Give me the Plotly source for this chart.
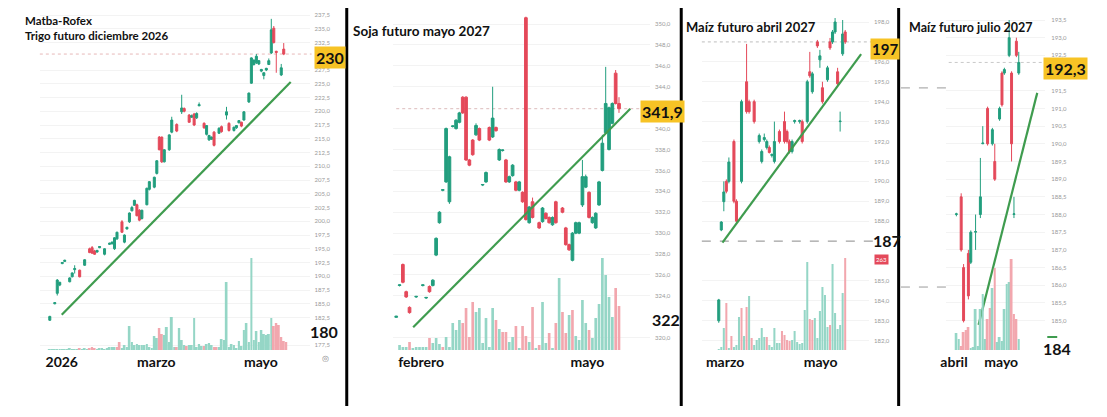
import plotly.graph_objects as go

# ======================= DATA =======================
# --- Trigo futuro diciembre 2026 (session index, open, high, low, close)
trigo_ohlc = [
    (0, 182.0, 182.8, 181.9, 182.7), (2, 185.0, 185.3, 184.9, 185.2), (3, 186.9, 189.5, 186.5, 189.3),
    (4, 188.4, 189.0, 188.2, 188.9), (5, 192.3, 192.6, 192.2, 192.5), (6, 192.7, 193.0, 192.6, 192.9),
    (8, 189.0, 189.8, 188.9, 189.7), (9, 189.9, 190.7, 189.8, 190.6), (10, 191.2, 192.0, 190.5, 191.4),
    (12, 191.1, 191.2, 189.8, 189.9), (14, 192.0, 193.1, 191.9, 193.0), (16, 195.0, 195.2, 194.2, 194.3),
    (17, 195.2, 195.5, 194.1, 194.2), (18, 194.6, 194.8, 193.9, 194.0), (19, 194.4, 194.8, 194.3, 194.7),
    (20, 195.2, 195.5, 195.1, 195.4), (22, 194.0, 195.1, 193.8, 195.0), (24, 195.8, 196.1, 195.7, 196.0),
    (25, 195.9, 196.3, 195.8, 196.2), (26, 195.0, 197.1, 194.8, 197.0), (27, 196.8, 198.1, 196.6, 198.0),
    (29, 199.9, 200.2, 197.9, 198.0), (30, 196.2, 197.6, 196.0, 197.5), (31, 198.6, 199.0, 198.5, 198.9),
    (32, 199.9, 201.6, 199.7, 201.5), (33, 201.9, 202.8, 201.8, 202.5), (34, 202.9, 203.9, 202.8, 203.8),
    (35, 203.0, 203.2, 200.9, 201.0), (36, 202.0, 202.2, 200.0, 200.2), (37, 200.5, 202.1, 200.3, 202.0),
    (39, 203.0, 206.1, 202.9, 206.0), (40, 205.8, 207.3, 205.6, 207.2), (42, 206.2, 208.1, 206.0, 208.0),
    (43, 208.7, 211.1, 208.5, 211.0), (44, 215.3, 215.5, 212.9, 213.0), (45, 215.3, 215.4, 210.6, 210.8),
    (46, 210.8, 213.1, 210.7, 213.0), (48, 213.0, 215.8, 212.8, 215.7), (49, 216.2, 219.0, 216.0, 218.4),
    (51, 217.6, 217.8, 216.2, 216.4), (53, 219.9, 223.0, 219.5, 220.6), (54, 220.5, 220.7, 219.8, 220.0),
    (56, 219.3, 219.5, 217.9, 218.0), (57, 218.9, 219.4, 218.8, 219.2), (58, 219.5, 219.7, 217.3, 217.5),
    (59, 218.8, 219.8, 218.6, 219.6), (60, 221.0, 221.6, 220.9, 221.2), (62, 217.8, 218.0, 216.8, 217.0),
    (63, 215.8, 217.5, 215.6, 217.4), (64, 214.8, 215.7, 214.6, 215.6), (65, 214.9, 215.4, 214.8, 215.3),
    (66, 216.2, 216.4, 213.6, 213.8), (68, 216.0, 217.1, 215.9, 216.9), (69, 217.2, 217.4, 216.1, 216.3),
    (71, 219.3, 220.8, 218.5, 219.9), (72, 217.8, 218.0, 216.3, 216.5), (74, 216.5, 217.2, 216.3, 217.1),
    (75, 217.0, 217.5, 216.8, 217.4), (76, 217.9, 218.4, 217.8, 218.3), (77, 218.0, 218.1, 217.1, 217.3),
    (78, 218.4, 220.0, 218.3, 219.9), (80, 221.7, 223.4, 221.5, 223.3), (81, 225.1, 229.8, 225.0, 229.7),
    (82, 228.5, 229.4, 228.3, 229.3), (83, 228.8, 230.4, 228.6, 230.0), (84, 228.6, 229.3, 228.4, 229.2),
    (85, 227.3, 227.7, 227.1, 227.6), (86, 226.5, 227.1, 225.8, 227.0), (87, 227.5, 227.9, 227.3, 227.8),
    (88, 228.5, 229.6, 228.4, 229.2), (89, 230.6, 236.8, 230.4, 234.8), (90, 235.1, 235.5, 232.3, 232.5),
    (91, 230.9, 231.0, 227.0, 230.7), (93, 226.6, 228.6, 226.4, 227.9), (94, 231.3, 232.4, 230.2, 230.4),
]
trigo_vol = [1, 1, 1, 1, 1, 1, 1, 1, 2, 1, 1, 1, 2, 1, 2, 1, 2, 3, 2, 1,
             2, 2, 1, 2, 3, 3, 3, 3, 8, 2, 5, 3, 24, 8, 5, 6, 5, 5, 5, 6,
             3, 2, 14, 12, 22, 16, 15, 23, 8, 33, 3, 3, 22, 10, 5, 4, 5, 5, 32, 3,
             6, 4, 4, 6, 7, 5, 3, 3, 3, 11, 10, 68, 3, 6, 5, 2, 9, 4, 20, 27,
             8, 92, 10, 19, 8, 20, 16, 15, 16, 32, 24, 27, 25, 13, 9, 8]
trigo_vol_x = list(range(0, 96))
trigo_vol_dir = ("uuuuuuuuuuuu" "d" "uuu" "ddd" "uuuuuuuu" "dd" "uuuuuuuuuuuuuuu" "dd" "uuuuu" "d"
                 "uuu" "d" "uuuuuu" "d" "uuu" "dd" "uuuuuuuuuuuuuuuuuuuuuu" "dddddd")
trigo_trend_x = [4.8, 96.8]
trigo_trend_y = [183.0, 225.3]
trigo_last = 230.4
trigo_months = ["2026", "marzo", "mayo"]
trigo_month_pos = [4.8, 42.8, 84.8]
# visible price-axis labels (those hidden under the value tags are left out)
trigo_ticks = [177.5, 182.5, 185.0, 187.5, 190.0, 192.5, 195.0, 197.5, 200.0, 202.5, 205.0, 207.5,
               210.0, 212.5, 215.0, 217.5, 220.0, 222.5, 225.0, 227.5, 232.5, 235.0, 237.5]

# --- Soja futuro mayo 2027
soja_ohlc = [
    (0, 321.95, 322.1, 321.9, 322.05), (1, 325.0, 325.1, 324.9, 325.05), (2, 327.0, 327.1, 325.2, 325.3),
    (3, 324.4, 324.5, 323.8, 323.9), (4, 322.9, 323.0, 322.3, 322.4), (6, 323.9, 324.0, 323.8, 323.95),
    (8, 325.0, 325.1, 324.9, 325.05), (9, 323.8, 323.9, 323.7, 323.85), (10, 324.9, 325.0, 324.3, 324.4),
    (11, 325.0, 325.6, 324.9, 325.5), (12, 327.9, 329.6, 327.8, 329.5), (13, 331.0, 332.1, 330.9, 332.0),
    (14, 334.1, 334.2, 334.0, 334.15), (15, 334.9, 340.1, 334.8, 340.0), (16, 333.0, 337.4, 332.8, 337.3),
    (17, 340.2, 340.3, 340.1, 340.25), (18, 340.0, 340.9, 339.9, 340.8), (19, 340.6, 341.6, 340.5, 341.5),
    (20, 343.0, 343.1, 341.4, 341.5), (21, 343.0, 343.1, 336.9, 337.0), (22, 337.0, 337.1, 336.4, 336.5),
    (23, 338.9, 339.0, 337.4, 337.5), (24, 339.4, 340.5, 339.3, 340.3), (25, 340.0, 340.1, 338.8, 338.9),
    (26, 334.6, 334.7, 334.5, 334.65), (27, 334.9, 335.9, 334.8, 335.8), (28, 340.1, 340.2, 338.8, 338.9),
    (29, 339.2, 344.0, 339.1, 341.0), (30, 340.1, 340.2, 339.7, 339.8), (31, 337.0, 338.1, 336.9, 338.0),
    (32, 337.9, 338.0, 337.8, 337.95), (33, 337.0, 337.1, 334.8, 334.9), (34, 334.9, 335.5, 334.8, 335.4),
    (35, 335.5, 336.6, 335.4, 336.5), (36, 334.9, 335.0, 334.0, 334.1), (37, 334.1, 335.0, 334.0, 334.9),
    (38, 333.9, 334.0, 332.9, 333.0), (39, 350.6, 350.7, 331.2, 331.3), (40, 331.0, 332.6, 330.9, 332.5),
    (41, 333.0, 333.4, 331.4, 331.5), (43, 331.0, 331.1, 330.4, 330.5), (44, 331.1, 332.5, 331.0, 332.4),
    (45, 331.9, 332.0, 331.3, 331.4), (46, 331.5, 331.6, 330.9, 331.0), (47, 330.8, 331.6, 330.7, 331.5),
    (48, 333.0, 333.1, 330.9, 331.0), (50, 332.4, 332.5, 331.9, 332.0), (51, 330.5, 330.6, 328.8, 328.9),
    (52, 328.9, 329.0, 328.3, 328.4), (53, 327.4, 330.1, 327.3, 330.0), (54, 330.0, 331.1, 329.9, 331.0),
    (55, 330.0, 331.1, 329.9, 331.0), (56, 332.7, 337.0, 332.5, 335.4), (57, 334.4, 335.6, 334.3, 335.4),
    (58, 333.9, 334.0, 331.4, 331.5), (59, 331.0, 331.6, 330.9, 331.5), (60, 330.5, 332.0, 330.4, 331.9),
    (61, 332.7, 335.0, 332.6, 334.9), (62, 336.0, 339.4, 335.9, 338.6), (63, 339.6, 345.9, 339.5, 342.4),
    (64, 338.0, 342.1, 337.9, 342.0), (65, 340.5, 342.5, 340.4, 342.4), (66, 345.3, 345.6, 342.3, 342.4),
    (67, 342.4, 343.0, 341.5, 341.9),
]
soja_vol = [5, 3, 3, 8, 2, 3, 3, 3, 3, 12, 7, 12, 6, 3, 13, 3, 27, 20, 30, 27,
            42, 13, 48, 38, 42, 7, 32, 3, 42, 30, 21, 18, 18, 8, 13, 24, 2, 24, 14, 8,
            43, 2, 5, 48, 7, 17, 2, 27, 72, 38, 17, 35, 40, 14, 10, 50, 27, 20, 12, 32,
            46, 92, 75, 53, 33, 62, 44]
soja_vol_x = list(range(1, 68))
soja_vol_dir = ("uuu" "d" "uuuuu" "d" "uuu" "d" "uuuuu" "dddd" "uuuuuu" "d" "u" "dd" "uu" "d" "u" "dd"
                "u" "d" "u" "d" "uu" "d" "u" "d" "u" "dd" "u" "d" "uuuu" "d" "uuuuuuu" "dd")
soja_trend_x = [5.1, 70.4]
soja_trend_y = [321.0, 341.9]
soja_last = 341.9
soja_months = ["febrero", "mayo"]
soja_month_pos = [7.5, 57.5]
soja_ticks = [320.0, 324.0, 326.0, 328.0, 330.0, 332.0, 334.0, 336.0, 338.0, 340.0,
              344.0, 346.0, 348.0, 350.0]

# --- Maíz futuro abril 2027
abril_ohlc = [
    (0, 183.0, 184.1, 182.9, 184.05), (1, 187.56, 188.0, 187.5, 187.96), (2, 188.98, 190.0, 188.5, 189.47),
    (3, 190.0, 190.1, 189.4, 189.5), (4, 190.0, 191.2, 189.9, 190.97), (6, 192.0, 192.1, 188.9, 189.0),
    (7, 189.0, 189.1, 187.9, 188.0), (9, 190.0, 194.1, 189.9, 194.0), (11, 195.0, 196.9, 193.4, 193.5),
    (12, 194.0, 194.1, 193.4, 193.5), (14, 194.0, 194.1, 192.9, 193.0), (16, 192.0, 192.4, 191.9, 192.3),
    (17, 191.0, 191.6, 190.9, 191.5), (18, 192.1, 192.4, 192.0, 192.2), (19, 191.7, 192.1, 191.6, 192.0),
    (20, 191.7, 191.8, 191.4, 191.45), (21, 191.3, 191.4, 191.2, 191.35), (22, 191.0, 193.0, 190.9, 192.0),
    (24, 192.5, 192.6, 191.9, 192.0), (26, 193.0, 193.5, 191.9, 192.0), (27, 192.5, 192.6, 191.9, 192.0),
    (28, 192.0, 192.1, 191.4, 191.5), (29, 191.5, 192.1, 191.4, 192.0), (30, 193.0, 193.1, 192.9, 193.05),
    (32, 193.0, 193.1, 192.9, 193.05), (33, 193.0, 193.1, 191.9, 192.0), (35, 193.0, 195.1, 192.9, 195.0),
    (36, 195.5, 196.5, 195.2, 195.3), (37, 194.5, 195.5, 194.4, 195.4), (39, 197.0, 197.1, 196.7, 196.8),
    (40, 196.1, 196.6, 195.7, 196.3), (41, 194.7, 195.0, 193.9, 194.0), (43, 195.1, 195.8, 195.0, 195.7),
    (44, 197.0, 197.2, 196.6, 196.7), (45, 197.0, 197.6, 196.9, 197.5), (46, 197.5, 198.2, 197.4, 198.0),
    (47, 195.5, 195.7, 194.8, 194.9), (48, 193.0, 193.5, 192.5, 193.02), (49, 196.4, 198.1, 196.3, 197.4),
    (50, 197.5, 197.6, 196.9, 197.0),
]
abril_vol = [1, 3, 22, 47, 2, 14, 3, 5, 33, 42, 14, 43, 54, 12, 5, 10, 12, 22, 13, 13,
             5, 3, 22, 7, 7, 19, 15, 10, 9, 10, 19, 8, 6, 7, 40, 88, 31, 30, 32, 12,
             39, 63, 55, 23, 25, 86, 37, 21, 25, 57, 92]
abril_vol_x = list(range(0, 51))
abril_vol_dir = ("uuu" "d" "u" "d" "uuu" "d" "u" "d" "u" "d" "uuuuu" "d" "uuuuu" "dddd" "uuuuuuu" "dd"
                 "uuuuuu" "d" "uuuuu" "d")
abril_trend_x = [1.46, 56.3]
abril_trend_y = [186.92, 196.39]
abril_last = 197.0
abril_mark = 187.0
abril_months = ["marzo", "mayo"]
abril_month_pos = [2.5, 40.3]
abril_ticks = [182.0, 183.0, 184.0, 185.0, 188.0, 189.0, 190.0, 191.0, 192.0, 193.0,
               194.0, 195.0, 196.0, 198.0]

# --- Maíz futuro julio 2027
julio_ohlc = [
    (0, 188.0, 188.05, 187.95, 188.02), (2, 188.5, 188.6, 186.95, 187.0), (3, 186.5, 186.6, 184.95, 185.0),
    (5, 186.9, 187.0, 185.6, 185.7), (6, 186.65, 187.55, 186.6, 187.5), (8, 187.5, 188.0, 187.0, 187.52),
    (10, 188.0, 189.6, 187.9, 188.5), (11, 190.0, 190.5, 190.0, 190.02), (13, 191.0, 191.05, 189.95, 190.0),
    (15, 190.0, 190.45, 189.95, 190.4), (16, 189.5, 190.0, 188.95, 189.0), (18, 190.7, 191.05, 190.65, 191.0),
    (19, 192.0, 192.05, 191.05, 191.1), (20, 192.0, 192.15, 191.95, 192.1), (22, 192.5, 193.5, 192.45, 193.0),
    (23, 192.0, 192.05, 189.5, 190.0), (24, 188.0, 188.5, 187.9, 188.02), (25, 192.9, 193.0, 192.45, 192.5),
    (26, 192.0, 192.6, 191.95, 192.3),
]
julio_vol = [17, 11, 4, 18, 20, 23, 2, 3, 41, 4, 41, 56, 11, 31, 42, 62, 82, 8, 13, 9,
             41, 66, 68, 91, 36, 31, 11]
julio_vol_x = list(range(0, 27))
julio_vol_dir = "uu" "dddd" "uuuuuuu" "dd" "u" "d" "uuuuuu" "ddd" "u"
julio_trend_x = [9.25, 33.7]
julio_trend_y = [184.88, 191.44]
julio_last = 192.3
julio_marks = [191.58, 185.95]
julio_months = ["abril", "mayo"]
julio_month_pos = [-1.0, 18.7]
julio_ticks = [185.0, 185.5, 186.0, 186.5, 187.0, 187.5, 188.0, 188.5, 189.0, 189.5, 190.0, 190.5,
               191.0, 191.5, 192.5, 193.0, 193.5]

# ======================= LAYOUT / STYLE =======================
W, H = 1107, 417
FONT = "Lato, 'Open Sans', sans-serif"
UP, DOWN = "#229e7e", "#e4495a"
VUP, VDOWN = "#95d6c6", "#f2a7ae"
YELLOW = "#f7c325"
TREND = "#3f9c4f"
PRICE_TOP, PRICE_BOT = 5, 352      # pixel rows of price-axis domain
VOL_BOT, VOL_TOP = 350, 250        # pixel rows of volume domain (1 unit = 1 px)


def fx(p):
    return p / W


def fy(p):
    return 1 - p / H


panels = [
    dict(ohlc=trigo_ohlc, vol=trigo_vol, vx=trigo_vol_x, vdir=trigo_vol_dir, tx=trigo_trend_x, ty=trigo_trend_y,
         months=trigo_months, mpos=trigo_month_pos, ticks=trigo_ticks,
         xpx0=45, xstep=2.5, xdom=(35, 306), ycal=(15, 237.5, 5.5), tickpx=310),
    dict(ohlc=soja_ohlc, vol=soja_vol, vx=soja_vol_x, vdir=soja_vol_dir, tx=soja_trend_x, ty=soja_trend_y,
         months=soja_months, mpos=soja_month_pos, ticks=soja_ticks,
         xpx0=393, xstep=3.34, xdom=(390, 648), ycal=(24, 350.0, 10.457), tickpx=652),
    dict(ohlc=abril_ohlc, vol=abril_vol, vx=abril_vol_x, vdir=abril_vol_dir, tx=abril_trend_x, ty=abril_trend_y,
         months=abril_months, mpos=abril_month_pos, ticks=abril_ticks,
         xpx0=717, xstep=2.54, xdom=(700, 868), ycal=(22, 198.0, 19.92), tickpx=872),
    dict(ohlc=julio_ohlc, vol=julio_vol, vx=julio_vol_x, vdir=julio_vol_dir, tx=julio_trend_x, ty=julio_trend_y,
         months=julio_months, mpos=julio_month_pos, ticks=julio_ticks,
         xpx0=955.7, xstep=2.41, xdom=(945, 1045), ycal=(20, 193.5, 35.37), tickpx=1050),
]

fig = go.Figure()
layout = dict(
    width=W, height=H, margin=dict(l=0, r=0, t=0, b=0), autosize=False,
    paper_bgcolor="white", plot_bgcolor="rgba(0,0,0,0)", showlegend=False,
    separators=",.", hovermode=False, boxgap=0.12, boxgroupgap=0.08,
    font=dict(family=FONT),
)

for k, p in enumerate(panels, start=1):
    xs = "" if k == 1 else str(k)
    xa, ya, va = "x" + xs, "y" + xs, "y" + str(k + 4)
    x, o, hi, lo, c = zip(*p["ohlc"])
    fig.add_trace(go.Bar(
        x=p["vx"], y=p["vol"], xaxis=xa, yaxis=va,
        marker=dict(color=[VUP if d == "u" else VDOWN for d in p["vdir"]], line=dict(width=0)),
    ))
    fig.add_trace(go.Candlestick(
        x=list(x), open=list(o), high=list(hi), low=list(lo), close=list(c), xaxis=xa, yaxis=ya,
        increasing=dict(line=dict(color=UP, width=1), fillcolor=UP),
        decreasing=dict(line=dict(color=DOWN, width=1), fillcolor=DOWN),
        whiskerwidth=0,
    ))
    fig.add_trace(go.Scatter(x=p["tx"], y=p["ty"], mode="lines", xaxis=xa, yaxis=ya,
                             line=dict(color=TREND, width=2.2)))

    ypx, yval, ppu = p["ycal"]

    def price(py, ypx=ypx, yval=yval, ppu=ppu):
        return yval - (py - ypx) / ppu

    xr = [(p["xdom"][0] - p["xpx0"]) / p["xstep"], (p["xdom"][1] - p["xpx0"]) / p["xstep"]]

    layout["xaxis" + xs] = dict(
        domain=[fx(p["xdom"][0]), fx(p["xdom"][1])], range=xr, anchor=ya,
        tickmode="array", tickvals=p["mpos"], ticktext=["<b>%s</b>" % m for m in p["months"]],
        tickfont=dict(family=FONT, size=14, color="#111"), ticks="", showgrid=False,
        zeroline=False, showline=False, rangeslider=dict(visible=False), fixedrange=True,
    )
    layout["yaxis" + xs] = dict(
        domain=[fy(PRICE_BOT), fy(PRICE_TOP)], range=[price(PRICE_BOT), price(PRICE_TOP)],
        anchor="free", position=fx(p["tickpx"]), side="right",
        tickmode="array", tickvals=p["ticks"], tickformat=".1f",
        tickfont=dict(family=FONT, size=6, color="#9a9a9a"), ticks="",
        showgrid=True, gridcolor="#f3f3f3", gridwidth=1, zeroline=False, showline=False, fixedrange=True,
    )
    layout["yaxis" + str(k + 4)] = dict(
        domain=[fy(VOL_BOT), fy(VOL_TOP)], range=[0, VOL_BOT - VOL_TOP], anchor=xa,
        visible=False, fixedrange=True,
    )

shapes = []


def hline(yref, val, x0, x1, color, dash, width=1):
    shapes.append(dict(type="line", xref="paper", yref=yref, x0=fx(x0), x1=fx(x1), y0=val, y1=val,
                       line=dict(color=color, width=width, dash=dash), layer="below"))


hline("y", trigo_last, 35, 308, "#e7b9b9", "dot")
hline("y2", soja_last, 393, 643, "#dcbcbc", "dot")
hline("y3", abril_last, 700, 872, "#bdbdbd", "dot")
hline("y3", abril_mark, 700, 876, "#8a8a8a", "dash")
hline("y4", julio_last, 948, 1045, "#c9c9c9", "dot")
for v in julio_marks:
    hline("y4", v, 900, 947, "#9a9a9a", "dash")

for sx in (343.3, 679.3, 897.7):
    shapes.append(dict(type="line", xref="paper", yref="paper", x0=fx(sx), x1=fx(sx), y0=fy(406), y1=fy(8),
                       line=dict(color="black", width=3)))
shapes.append(dict(type="line", xref="paper", yref="paper", x0=fx(1047), x1=fx(1057), y0=fy(337), y1=fy(337),
                   line=dict(color=TREND, width=2)))
layout["shapes"] = shapes

annotations = []


def label(text, xp, yp, size, color="#111", bg=None, xanchor="center", bold=True, pad=1):
    a = dict(text=("<b>%s</b>" % text) if bold else text, xref="paper", yref="paper",
             x=fx(xp), y=fy(yp), xanchor=xanchor, yanchor="middle", showarrow=False,
             font=dict(family=FONT, size=size, color=color), borderpad=pad)
    if bg:
        a["bgcolor"] = bg
    annotations.append(a)


label("Matba-Rofex", 18, 20, 11.5, xanchor="left")
label("Trigo futuro diciembre 2026", 18, 35, 11.5, xanchor="left")
label("Soja futuro mayo 2027", 348, 31, 13.5, xanchor="left")
label("Maíz futuro abril 2027", 682, 27, 13, xanchor="left")
label("Maíz futuro julio 2027", 906, 27, 12.5, xanchor="left")
label("230", 326, 57, 16, bg=YELLOW, pad=1)
label("180", 320, 331, 16)
label("◎", 322, 358, 8, color="#888", bold=False)
label("341,9", 660, 111, 16, bg=YELLOW, pad=1)
label("322", 664, 319, 16)
label("197", 884, 49, 15, bg=YELLOW, pad=1)
label("187", 886, 241, 16)
label("263", 880, 259, 6, color="white", bg=DOWN, bold=False)
label("192,3", 1065, 69, 16, bg=YELLOW, pad=1)
label("184", 1057, 348, 16)
layout["annotations"] = annotations

fig.update_layout(**layout)
fig.write_html("out.html")
